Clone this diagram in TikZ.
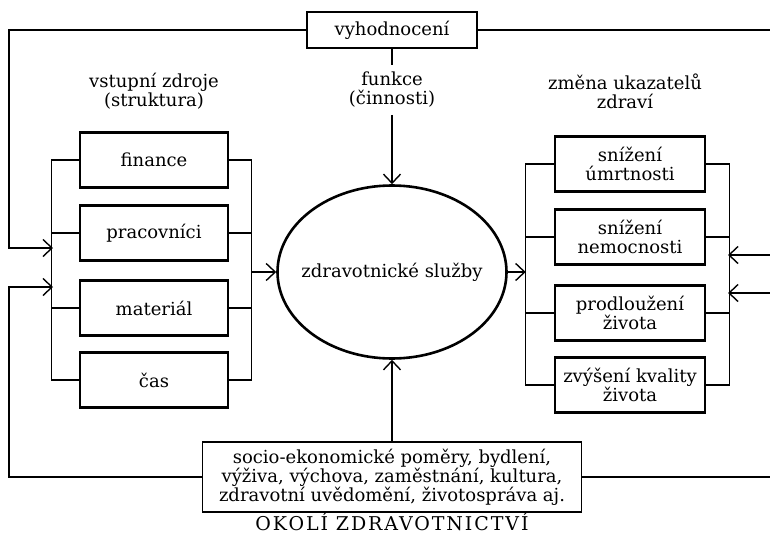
\documentclass[tikz,border=0pt]{standalone}
\usepackage{fontspec}
\setmainfont{DejaVu Serif}
\usetikzlibrary{shapes.geometric,arrows.meta}

\tikzset{
    conn/.style={line width=1.4pt},
    arr/.style={conn,-{Straight Barb[length=9pt,width=17pt]}},
    box/.style={draw, line width=2.6pt, minimum width=148pt, minimum height=55pt, align=center, inner sep=1pt},
    thinbox/.style={draw, line width=1.5pt, align=center},
}

\begin{document}
\begin{tikzpicture}[x=1pt,y=-1pt,font=\fontsize{18}{19}\selectfont]
    \useasboundingbox (0,0) rectangle (770,535);

    \node[thinbox, minimum width=170pt, minimum height=36pt] (vyhod) at (392,30) {vyhodnocení};

    \node[align=center] (vstup) at (154,91) {vstupní zdroje\\(struktura)};
    \node[align=center, inner ysep=7pt] (funkce) at (392,90) {funkce\\(činnosti)};
    \node[align=center] (zmena) at (625,91) {změna ukazatelů\\zdraví};

    \node[draw, ellipse, line width=2.6pt, inner xsep=-14pt, inner ysep=0pt,
          minimum width=229pt, minimum height=173pt] (sluzby) at (392,272) {zdravotnické služby};

    \foreach \n/\t/\y in {fin/finance/160, prac/pracovníci/233, mat/materiál/308, cas/čas/380}
        \node[box] (\n) at (154,\y) {\t};

    \foreach \n/\t/\y in {umrt/{snížení\\úmrtnosti}/164, nemoc/{snížení\\nemocnosti}/237,
                          prodl/{prodloužení\\života}/313, kval/{zvýšení kvality\\života}/385}
        \node[box, minimum width=150pt] (\n) at (630,\y) {\t};

    \node[thinbox, minimum width=379pt, minimum height=70pt, inner sep=2pt] (okoli) at (392,477)
        {socio-ekonomické poměry, bydlení,\\výživa, výchova, zaměstnání, kultura,\\zdravotní uvědomění, životospráva aj.};
    \node[inner sep=0pt, anchor=base, font=\fontsize{19}{20}\selectfont\addfontfeature{LetterSpace=10}]
        (okolitxt) at (392,530) {OKOLÍ ZDRAVOTNICTVÍ};

    % sběrnice vlevo
    \draw[conn] (fin.west) -- ++(-27,0) coordinate (lbus) |- (cas.west);
    \foreach \n in {prac,mat}
        \draw[conn] (\n.west) -- (\n.west -| lbus);
    \draw[conn] (fin.east) -- ++(22,0) coordinate (rbus) |- (cas.east);
    \foreach \n in {prac,mat}
        \draw[conn] (\n.east) -- (\n.east -| rbus);

    % sběrnice vpravo
    \draw[conn] (umrt.west) -- ++(-28,0) coordinate (rlbus) |- (kval.west);
    \foreach \n in {nemoc,prodl}
        \draw[conn] (\n.west) -- (\n.west -| rlbus);
    \draw[conn] (umrt.east) -- ++(23,0) coordinate (rrbus) |- (kval.east);
    \foreach \n in {nemoc,prodl}
        \draw[conn] (\n.east) -- (\n.east -| rrbus);

    \draw[arr] (rbus |- sluzby.west) -- (sluzby.west);
    \draw[arr] (sluzby.east) -- (sluzby.east -| rlbus);
    \draw[conn] (vyhod.south) -- (funkce.north);
    \draw[arr] (funkce.south) -- (sluzby.north);
    \draw[arr] (okoli.north) -- (sluzby.south);

    % zpětné vazby
    \coordinate (in1) at (53,248);
    \coordinate (in2) at (53,287);
    \coordinate (in3) at (728,255);
    \coordinate (in4) at (728,293);
    \coordinate (edge) at (770,0);
    \draw[arr] (vyhod.west) -| (9,248) -- (in1);
    \draw[arr] (okoli.west) -| (9,287) -- (in2);
    \draw[conn] (vyhod.east) -- (vyhod.east -| edge);
    \draw[conn] (okoli.east) -- (okoli.east -| edge);
    \draw[arr] (in3 -| edge) -- (in3);
    \draw[arr] (in4 -| edge) -- (in4);
\end{tikzpicture}
\end{document}
